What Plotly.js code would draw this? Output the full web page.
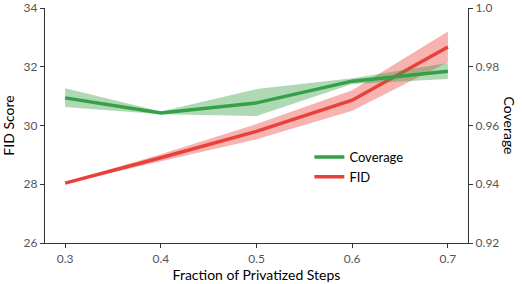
<!DOCTYPE html>
<html><head><meta charset="utf-8">
<script src="https://cdn.plot.ly/plotly-3.0.1.min.js"></script>
<style>body{margin:0}#c{width:522px;height:284px}</style>
</head><body><div id="c"></div>
<script>
const fractions = [0.3, 0.4, 0.5, 0.6, 0.7];
const fid = [28.04, 28.9, 29.8, 30.86, 32.67];
const fidLow = [28.02, 28.78, 29.53, 30.5, 32.15];
const fidHigh = [28.06, 29.02, 30.05, 31.2, 33.2];
const coverage = [0.9694, 0.9643, 0.9677, 0.9751, 0.9785];
const covLow = [0.9663, 0.9638, 0.9632, 0.9741, 0.9758];
const covHigh = [0.9727, 0.9648, 0.9724, 0.9761, 0.9813];

const green = '#36a047', red = '#e9413a';
const font = {family: 'Lato, "Open Sans", sans-serif', color: '#000'};
const band = (lo, hi, col, yaxis) => ({
  x: fractions.concat(fractions.slice().reverse()),
  y: hi.concat(lo.slice().reverse()),
  fill: 'toself', fillcolor: col, line: {width: 0}, mode: 'lines',
  hoverinfo: 'skip', showlegend: false, yaxis: yaxis
});
const data = [
  band(covLow, covHigh, 'rgba(54,160,71,0.4)', 'y2'),
  band(fidLow, fidHigh, 'rgba(233,65,58,0.4)', 'y'),
  {x: fractions, y: coverage, yaxis: 'y2', mode: 'lines', name: 'Coverage', line: {color: green, width: 3.5}},
  {x: fractions, y: fid, yaxis: 'y', mode: 'lines', name: 'FID', line: {color: red, width: 3.5}}
];
const tickfont = {family: font.family, size: 12, color: '#555'};
const layout = {
  width: 522, height: 284,
  margin: {l: 45, r: 54, t: 8, b: 41},
  paper_bgcolor: '#fff', plot_bgcolor: '#fff',
  showlegend: true,
  legend: {x: 0.625, y: 0.43, xanchor: 'left', yanchor: 'top', font: {family: font.family, size: 13, color: '#000'}, bgcolor: 'rgba(0,0,0,0)', tracegroupgap: 0},
  xaxis: {range: [0.279, 0.721], tickvals: fractions, ticktext: ['0.3','0.4','0.5','0.6','0.7'],
    showgrid: false, zeroline: false, showline: true, linecolor: '#333', linewidth: 1.2,
    ticks: 'outside', ticklen: 4, tickcolor: '#333', tickfont: tickfont,
    title: {text: 'Fraction of Privatized Steps', font: {family: font.family, size: 14, color: '#000'}, standoff: 4}},
  yaxis: {range: [26, 34], tickvals: [26, 28, 30, 32, 34], showgrid: false, zeroline: false,
    showline: true, linecolor: '#333', linewidth: 1.2, ticks: 'outside', ticklen: 4, tickcolor: '#333',
    tickfont: tickfont, title: {text: 'FID Score', font: {family: font.family, size: 14, color: '#000'}, standoff: 6}},
  yaxis2: {range: [0.92, 1.0], tickvals: [0.92, 0.94, 0.96, 0.98, 1.0], ticktext: ['0.92','0.94','0.96','0.98','1.0'],
    overlaying: 'y', side: 'right', showgrid: false, zeroline: false,
    showline: true, linecolor: '#333', linewidth: 1.2, ticks: 'outside', ticklen: 4, tickcolor: '#333',
    tickfont: tickfont},
  annotations: [{text: 'Coverage', xref: 'paper', yref: 'paper', x: 1.099, y: 0.5, textangle: 90,
    showarrow: false, font: {family: font.family, size: 14, color: '#000'}, xanchor: 'center', yanchor: 'middle'}]
};
Plotly.newPlot('c', data, layout, {displayModeBar: false, staticPlot: true});
</script></body></html>
